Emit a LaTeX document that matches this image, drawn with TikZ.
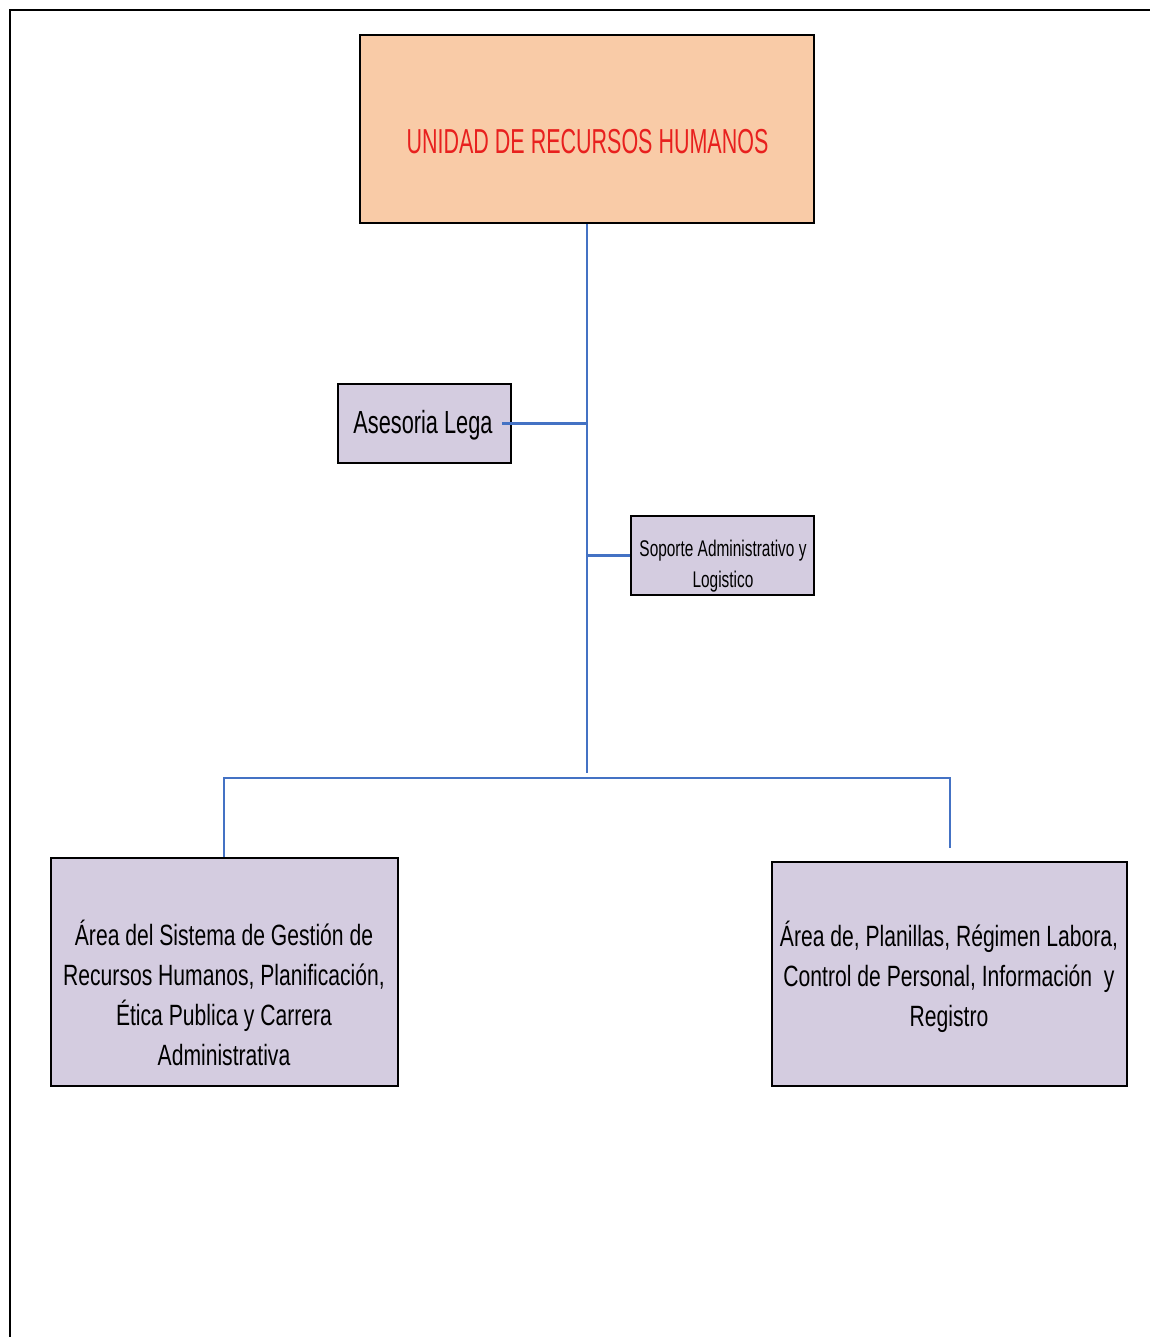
\documentclass[tikz,border=0pt]{standalone}
\usepackage{fontspec}
\setmainfont{Liberation Sans}
\newfontfamily\titlefont{Liberation Sans}[FakeStretch=0.62]
\newfontfamily\legalfont{Liberation Sans}[FakeStretch=0.68]
\newfontfamily\areafont{Liberation Sans}[FakeStretch=0.72]
\definecolor{peach}{HTML}{F9CBA7}
\definecolor{lav}{HTML}{D4CCE0}
\definecolor{conn}{HTML}{4472C4}
\definecolor{titlered}{HTML}{E8201E}
\begin{document}
\begin{tikzpicture}[x=0.75pt,y=-0.75pt,
  box/.style={draw=black,line width=1.5pt,inner sep=0pt,rectangle},
  orgbox/.style={box,fill=lav},
  link/.style={draw=conn,line width=1.6pt},
  txt/.style={inner sep=0pt,align=center,text=black}]
\useasboundingbox (0,0) rectangle (1150,1337);
% frame
\draw[line width=1.5pt] (10,1337) -- (10,10) -- (1150,10);
% boxes
\node[box,fill=peach,minimum width=340.5pt,minimum height=141pt] (top) at (587,129) {};
\node[orgbox,minimum width=129.75pt,minimum height=59.25pt] (legal) at (424.5,423.5) {};
\node[orgbox,minimum width=137.25pt,minimum height=59.25pt] (sop) at (722.5,555.5) {};
\node[orgbox,minimum width=260.25pt,minimum height=171pt] (left) at (224.5,972) {};
\node[orgbox,minimum width=266.25pt,minimum height=168pt] (right) at (949.5,974) {};
% texts
\node[txt,text=titlered,font=\titlefont\fontsize{26}{30}\selectfont] (toptxt) at (587.5,142) {UNIDAD DE RECURSOS HUMANOS};
\node[txt,font=\legalfont\fontsize{24}{28}\selectfont] (legaltxt) at (423,425) {Asesoria Lega};
\node[txt,font=\legalfont\fontsize{17}{23}\selectfont] (soptxt) at (723,566) {Soporte Administrativo y\\Logistico};
\node[txt,font=\areafont\fontsize{22}{30}\selectfont] (lefttxt) at (224,993) {Área del Sistema de Gestión de\\Recursos Humanos, Planificación,\\Ética Publica y Carrera\\Administrativa};
\node[txt,font=\areafont\fontsize{22}{30}\selectfont] (righttxt) at (949,977) {Área de, Planillas, Régimen Labora,\\Control de Personal, Información\ \ y\\Registro};
% connectors
\coordinate (tEnd) at (587,773);
\coordinate (barL) at (224,778);
\coordinate (barR) at (950,778);
\coordinate (rEnd) at (950,848);
\draw[link] (top.south) -- (tEnd);
\draw[link] ([xshift=-7.5pt]legal.east) -- (legal.east -| top.south);
\draw[link] (sop.west) -- (sop.west -| top.south);
\draw[link] (barL |- left.north) -- (barL) -- (barR) -- (rEnd);
\end{tikzpicture}
\end{document}
